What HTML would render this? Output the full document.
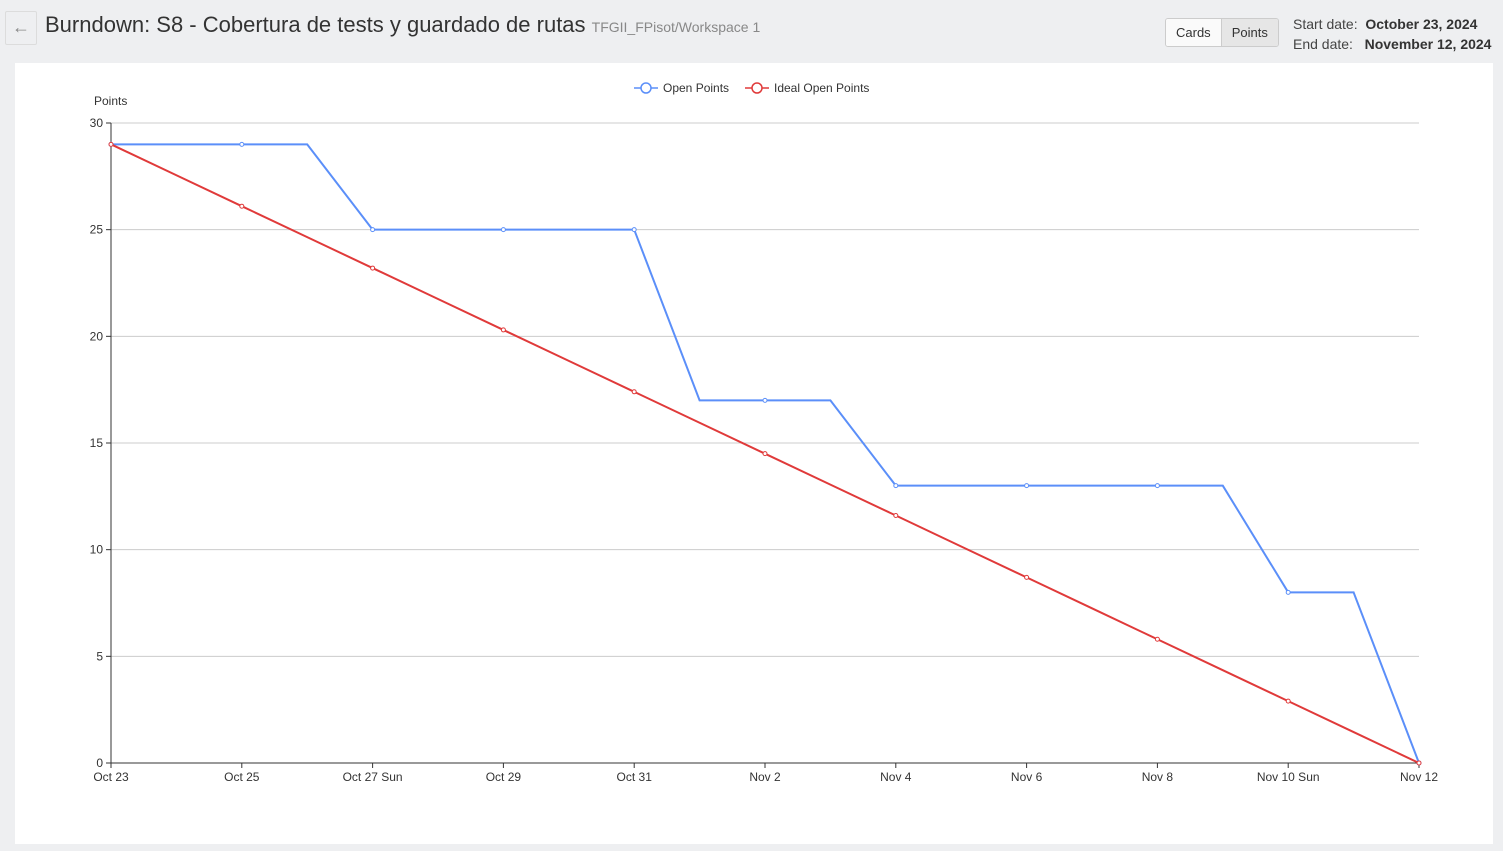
<!DOCTYPE html>
<html><head><meta charset="utf-8"><style>
body{margin:0;width:1503px;height:851px;background:#eeeff1;font-family:"Liberation Sans",sans-serif;position:relative;overflow:hidden}
.back{position:absolute;left:5px;top:11px;width:30px;height:32px;border:1px solid #dcdcdc;border-radius:2px;color:#888;font-size:18px;text-align:center;line-height:30px}
.title{position:absolute;left:45px;top:12px;font-size:22px;color:#333}
.title span{font-size:14px;color:#888}
.btns{position:absolute;left:1165px;top:18px;display:flex;border:1px solid #ccc;border-radius:3px;overflow:hidden}
.btns div{padding:6px 10px;font-size:13px;color:#333;background:#fafafa}
.btns div.act{background:#e6e6e6;border-left:1px solid #ccc}
.dates{position:absolute;left:1293px;top:14px;font-size:14px;color:#444;line-height:20px}
.dates b{color:#333}
.card{position:absolute;left:15px;top:63px;width:1478px;height:781px;background:#fff}
</style></head><body>
<div class="back">←</div>
<div class="title">Burndown: S8 - Cobertura de tests y guardado de rutas <span>TFGII_FPisot/Workspace 1</span></div>
<div class="btns"><div>Cards</div><div class="act">Points</div></div>
<div class="dates">Start date:&nbsp; <b>October 23, 2024</b><br>End date:&nbsp;&nbsp; <b>November 12, 2024</b></div>
<div class="card"></div>
<svg id="c" width="1503" height="851" style="position:absolute;left:0;top:0"></svg>
<script>
const days=[0,1,2,3,4,5,6,7,8,9,10,11,12,13,14,15,16,17,18,19,20];
const openPoints=[29,29,29,29,25,25,25,25,25,17,17,17,13,13,13,13,13,13,8,8,0];
const idealStart=29;
const xLabels=["Oct 23","Oct 25","Oct 27 Sun","Oct 29","Oct 31","Nov 2","Nov 4","Nov 6","Nov 8","Nov 10 Sun","Nov 12"];
const yTicks=[0,5,10,15,20,25,30];
const ideal=days.map(d=>idealStart*(1-d/20));
const NS="http://www.w3.org/2000/svg",svg=document.getElementById('c');
const X=d=>111+d*(1419-111)/20, Y=v=>763-v*(763-123)/30;
function el(t,a,txt){const e=document.createElementNS(NS,t);for(const k in a)e.setAttribute(k,a[k]);if(txt!=null)e.textContent=txt;svg.appendChild(e);return e;}
yTicks.forEach(v=>{
 const g=el('line',{x1:111,x2:1419,y1:Y(v),y2:Y(v),stroke:v?'#ccc':'#333','stroke-width':1});
 
 el('line',{x1:106,x2:111,y1:Y(v),y2:Y(v),stroke:'#333'});
 const t=el('text',{x:103,y:Y(v)+4,'text-anchor':'end','font-size':12,fill:'#333'},v);
 
});
el('line',{x1:111,x2:111,y1:123,y2:763,stroke:'#333'});
const yt=el('text',{x:94,y:105,'font-size':12,fill:'#333'},'Points');

xLabels.forEach((l,i)=>{
 el('line',{x1:X(i*2),x2:X(i*2),y1:763,y2:768,stroke:'#333'});
 const t=el('text',{x:X(i*2),y:781,'text-anchor':'middle','font-size':12,fill:'#333'},l);
 
});
function series(vals,color,name){
 const p=el('polyline',{points:days.map((d,i)=>X(d)+','+Y(vals[i])).join(' '),fill:'none',stroke:color,'stroke-width':2});
 
 days.forEach((d,i)=>{if(d%2)return;
  const c=el('circle',{cx:X(d),cy:Y(vals[i]),r:2,fill:'#fff',stroke:color,'stroke-width':1});
  });
}
series(openPoints,'#5b8ff9','open-points');
series(ideal,'#e03a3a','ideal-points');
[[634,'#5b8ff9','Open Points','legend-open-points'],[745,'#e03a3a','Ideal Open Points','legend-ideal-points']].forEach(([x,c,t,n])=>{
 el('line',{x1:x,x2:x+24,y1:88,y2:88,stroke:c,'stroke-width':1.5});
 el('circle',{cx:x+12,cy:88,r:5,fill:'#fff',stroke:c,'stroke-width':1.5});
 const tx=el('text',{x:x+29,y:92,'font-size':12,fill:'#333'},t);
 
});
</script>
</body></html>
